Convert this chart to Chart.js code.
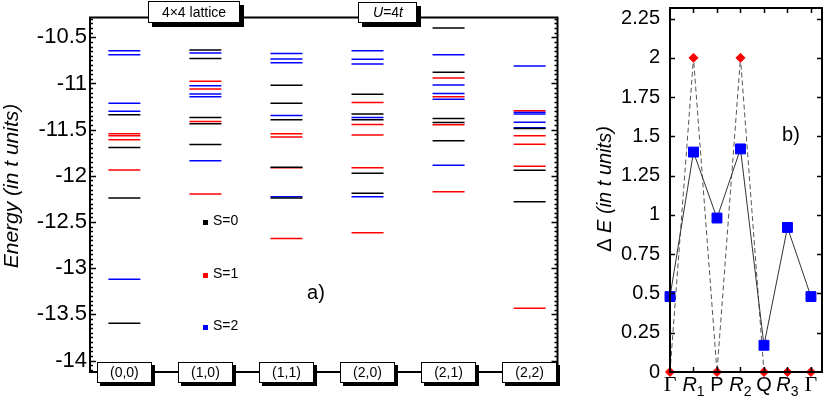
<!DOCTYPE html>
<html><head><meta charset="utf-8">
<script src="https://cdn.jsdelivr.net/npm/chart.js@4.4.1/dist/chart.umd.min.js"></script>
<style>
html,body{margin:0;padding:0;background:#fff;overflow:hidden;}
#wrap{position:relative;width:830px;height:406px;background:#fff;}
canvas{position:absolute;top:0;}
#cA{left:0;} #cB{left:575px;}
</style></head><body>
<div id="wrap"><canvas id="cA" width="575" height="406"></canvas><canvas id="cB" width="255" height="406"></canvas></div>
<script>
// ---------- data: panel a) energy levels per k-point ----------
const kPoints = ['(0,0)', '(1,0)', '(1,1)', '(2,0)', '(2,1)', '(2,2)'];
const levelsS0 = [
  [-11.338, -11.693, -12.241, -13.596],
  [-10.638, -10.731, -11.369, -11.437, -11.662],
  [-11.020, -11.214, -11.393, -11.907, -12.241],
  [-11.117, -11.331, -11.393, -11.972, -12.189],
  [-10.400, -10.879, -11.379, -11.424, -11.620],
  [-11.489, -11.941, -12.282]
];
const levelsS1 = [
  [-11.545, -11.565, -11.610, -11.938],
  [-10.976, -11.059, -11.413, -12.196],
  [-11.545, -11.579, -11.912, -12.679],
  [-11.207, -11.444, -11.558, -11.913, -12.617],
  [-10.941, -11.144, -11.448, -12.172],
  [-11.296, -11.565, -11.658, -11.896, -13.434]
];
const levelsS2 = [
  [-10.645, -10.689, -11.214, -11.300, -13.120],
  [-10.669, -11.024, -11.114, -11.145, -11.838],
  [-10.676, -10.734, -10.775, -11.348, -12.227],
  [-10.645, -10.738, -10.790, -11.369, -12.227],
  [-10.689, -11.017, -11.110, -11.171, -11.886],
  [-10.810, -11.313, -11.331, -11.421, -11.480]
];
const spinLabels = ['S=0', 'S=1', 'S=2'];
// ---------- data: panel b) gaps along path ----------
const pathPoints = ['Γ', 'R1', 'P', 'R2', 'Q', 'R3', 'Γ'];
const gapSquares = [0.48, 1.40, 0.98, 1.42, 0.17, 0.92, 0.48];
const gapDiamonds = [0, 2, 0, 2, 0, 0, 0];

const SANS = '"Liberation Sans", Arial, sans-serif';
const SERIF = '"Liberation Serif", "Times New Roman", serif';
const COLORS = ['#000000', '#ff0000', '#0000ff'];

function toPts(levels) {
  const out = [];
  levels.forEach((arr, i) => arr.forEach(e => out.push({x: i, y: e})));
  return out;
}
function lvlDs(levels, color) {
  return {data: toPts(levels), showLine: false, pointStyle: 'line', pointRadius: 16, pointHoverRadius: 16,
    pointBorderColor: color, pointBorderWidth: 1.5, borderColor: color, backgroundColor: color, clip: false};
}
function shadowBox(ctx, x, y, w, h, off) {
  ctx.fillStyle = '#000';
  ctx.fillRect(x + off, y + off, w, h);
  ctx.fillStyle = '#fff';
  ctx.fillRect(x, y, w, h);
  ctx.strokeStyle = '#000'; ctx.lineWidth = 1;
  ctx.strokeRect(x + 0.5, y + 0.5, w - 1, h - 1);
}
function richText(ctx, parts, cx, cy) {
  let total = 0;
  parts.forEach(p => { ctx.font = p.font; p.w = ctx.measureText(p.t).width; total += p.w; });
  let x = cx - total / 2;
  ctx.textAlign = 'left';
  parts.forEach(p => { ctx.font = p.font; ctx.fillText(p.t, x, cy + (p.dy || 0)); x += p.w; });
}

const pluginA = {
  id: 'decorA',
  afterDraw(chart) {
    const {ctx, chartArea: a, scales: {x, y}} = chart;
    ctx.save();
    ctx.strokeStyle = '#000'; ctx.lineWidth = 2;
    ctx.strokeRect(a.left, a.top, a.right - a.left, a.bottom - a.top);
    ctx.lineWidth = 1.5;
    for (let k = Math.ceil(y.min / 0.05); k * 0.05 <= y.max; k++) {
      const py = Math.round(y.getPixelForValue(k * 0.05)) + 0.5;
      const len = (k % 10 === 0) ? 6 : 3;
      ctx.beginPath();
      ctx.moveTo(a.left, py); ctx.lineTo(a.left + len, py);
      ctx.moveTo(a.right, py); ctx.lineTo(a.right - len, py);
      ctx.stroke();
    }
    ctx.textBaseline = 'middle'; ctx.textAlign = 'center';
    kPoints.forEach((lab, i) => {
      const cx = x.getPixelForValue(i);
      const w = 55, h = 21;
      shadowBox(ctx, Math.round(cx - w / 2), Math.round(a.bottom - 10), w, h, 3);
      ctx.fillStyle = '#000'; ctx.font = '14px ' + SANS; ctx.textAlign = 'center';
      ctx.fillText(lab, cx, a.bottom + 1);
    });
    shadowBox(ctx, 148, 1, 92, 22, 4);
    ctx.fillStyle = '#000'; ctx.font = '14px ' + SANS; ctx.textAlign = 'center';
    ctx.fillText('4×4 lattice', 194, 13);
    shadowBox(ctx, 358, 2, 59, 21, 4);
    ctx.fillStyle = '#000';
    richText(ctx, [
      {t: 'U', font: 'italic 14px ' + SANS},
      {t: '=4', font: '14px ' + SANS},
      {t: 't', font: 'italic 14px ' + SANS}
    ], 388, 13);
    const ly = [222, 275, 327];
    spinLabels.forEach((s, i) => {
      ctx.fillStyle = COLORS[i];
      ctx.fillRect(203, ly[i] - 2, 5, 5);
      ctx.fillStyle = '#000'; ctx.font = '14px ' + SANS; ctx.textAlign = 'left';
      ctx.fillText(s, 213, ly[i] - 1);
    });
    ctx.font = '20px ' + SANS; ctx.textAlign = 'center';
    ctx.fillText('a)', 316, 293);
    ctx.translate(18, 186); ctx.rotate(-Math.PI / 2);
    ctx.font = 'italic 21px ' + SANS; ctx.textAlign = 'center'; ctx.textBaseline = 'alphabetic';
    ctx.fillText('Energy (in t units)', 0, 0);
    ctx.restore();
  }
};

new Chart(document.getElementById('cA'), {
  type: 'scatter',
  data: {datasets: [lvlDs(levelsS0, COLORS[0]), lvlDs(levelsS1, COLORS[1]), lvlDs(levelsS2, COLORS[2])]},
  options: {
    responsive: false, animation: false, devicePixelRatio: 1, events: [],
    layout: {padding: {left: 0, top: 1, right: 12, bottom: 34}},
    plugins: {legend: {display: false}, tooltip: {enabled: false}},
    scales: {
      x: {type: 'linear', display: false, min: -0.424, max: 5.344},
      y: {type: 'linear', min: -14.124, max: -10.286,
        afterFit: s => { s.width = 90; s.paddingTop = 0; s.paddingBottom = 0; },
        grid: {display: false, drawTicks: false}, border: {display: false},
        ticks: {stepSize: 0.5, includeBounds: false, padding: 3, color: '#000',
          font: {family: SANS, size: 22}, callback: v => String(+(+v).toFixed(2))}}
    }
  },
  plugins: [pluginA]
});

const pluginB = {
  id: 'decorB',
  afterDraw(chart) {
    const {ctx, chartArea: a, scales: {x, y}} = chart;
    ctx.save();
    ctx.strokeStyle = '#000'; ctx.lineWidth = 2;
    ctx.strokeRect(a.left, a.top, a.right - a.left, a.bottom - a.top);
    ctx.lineWidth = 1.5;
    for (let k = 1; k * 0.25 <= y.max; k++) {
      const py = Math.round(y.getPixelForValue(k * 0.25)) + 0.5;
      ctx.beginPath();
      ctx.moveTo(a.left, py); ctx.lineTo(a.left + 5, py);
      ctx.moveTo(a.right, py); ctx.lineTo(a.right - 5, py);
      ctx.stroke();
    }
    for (let i = 1; i < pathPoints.length; i++) {
      const px = Math.round(x.getPixelForValue(i)) + 0.5;
      ctx.beginPath();
      ctx.moveTo(px, a.top); ctx.lineTo(px, a.top + 5);
      ctx.moveTo(px, a.bottom); ctx.lineTo(px, a.bottom - 5);
      ctx.stroke();
    }
    ctx.fillStyle = '#000'; ctx.textBaseline = 'alphabetic';
    pathPoints.forEach((lab, i) => {
      const cx = x.getPixelForValue(i);
      const by = 391;
      if (lab === 'Γ') {
        richText(ctx, [{t: 'Γ', font: '22px ' + SERIF}], cx, by);
      } else if (lab.length === 2) {
        richText(ctx, [{t: lab[0], font: 'italic 20px ' + SANS}, {t: lab[1], font: '14px ' + SANS, dy: 5}], cx, by);
      } else {
        richText(ctx, [{t: lab, font: '20px ' + SANS}], cx, by);
      }
    });
    ctx.font = '20px ' + SANS; ctx.textAlign = 'center'; ctx.textBaseline = 'middle';
    ctx.fillText('b)', 216, 135);
    ctx.translate(36, 189); ctx.rotate(-Math.PI / 2); ctx.textBaseline = 'alphabetic';
    richText(ctx, [
      {t: 'Δ ', font: '20px ' + SANS},
      {t: 'E (in t units)', font: 'italic 20px ' + SANS}
    ], 0, 0);
    ctx.restore();
  }
};

new Chart(document.getElementById('cB'), {
  type: 'scatter',
  data: {datasets: [
    {data: gapSquares.map((v, i) => ({x: i, y: v})), showLine: true, borderColor: '#333', borderWidth: 1,
      pointStyle: 'rect', pointRadius: 7, pointHoverRadius: 7, pointBackgroundColor: '#0000ff',
      pointBorderColor: '#0000ff', pointBorderWidth: 1, clip: false},
    {data: gapDiamonds.map((v, i) => ({x: i, y: v})), showLine: true, borderColor: '#555', borderWidth: 1,
      borderDash: [5, 3], pointStyle: 'rectRot', pointRadius: 4.5, pointHoverRadius: 4.5,
      pointBackgroundColor: '#ff0000', pointBorderColor: '#ff0000', pointBorderWidth: 1, clip: false}
  ]},
  options: {
    responsive: false, animation: false, devicePixelRatio: 1, events: [],
    layout: {padding: {left: 0, top: 1, right: 2, bottom: 34}},
    plugins: {legend: {display: false}, tooltip: {enabled: false}},
    scales: {
      x: {type: 'linear', display: false, min: 0, max: 6.47},
      y: {type: 'linear', min: 0, max: 2.317,
        afterFit: s => { s.width = 95; s.paddingTop = 0; s.paddingBottom = 0; },
        grid: {display: false, drawTicks: false}, border: {display: false},
        ticks: {stepSize: 0.25, includeBounds: false, padding: 10, color: '#000',
          font: {family: SANS, size: 20}, callback: v => String(+(+v).toFixed(2))}}
    }
  },
  plugins: [pluginB]
});
</script>
</body></html>
